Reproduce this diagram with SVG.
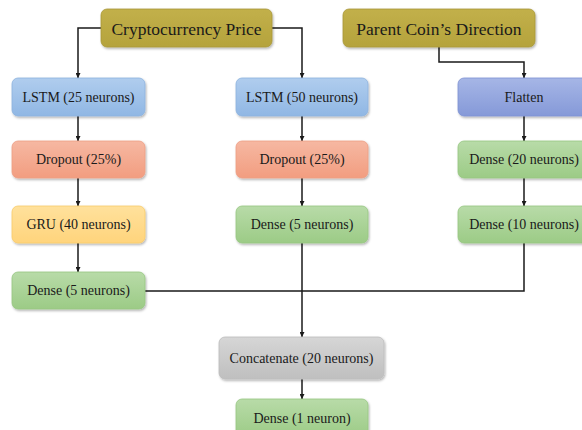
<svg xmlns="http://www.w3.org/2000/svg" width="582" height="430" viewBox="0 0 582 430">
  <defs>
    <linearGradient id="gGold" x1="0" y1="0" x2="0" y2="1">
      <stop offset="0" stop-color="#C2B04A"/>
      <stop offset="1" stop-color="#B5A33C"/>
    </linearGradient>
    <linearGradient id="gBlue" x1="0" y1="0" x2="0" y2="1">
      <stop offset="0" stop-color="#B0CDEE"/>
      <stop offset="1" stop-color="#90B7E4"/>
    </linearGradient>
    <linearGradient id="gSalmon" x1="0" y1="0" x2="0" y2="1">
      <stop offset="0" stop-color="#F6B8A2"/>
      <stop offset="1" stop-color="#F29D80"/>
    </linearGradient>
    <linearGradient id="gYellow" x1="0" y1="0" x2="0" y2="1">
      <stop offset="0" stop-color="#FFE19C"/>
      <stop offset="1" stop-color="#FFD47C"/>
    </linearGradient>
    <linearGradient id="gGreen" x1="0" y1="0" x2="0" y2="1">
      <stop offset="0" stop-color="#B8DBA8"/>
      <stop offset="1" stop-color="#9CCB86"/>
    </linearGradient>
    <linearGradient id="gIndigo" x1="0" y1="0" x2="0" y2="1">
      <stop offset="0" stop-color="#A6B6E6"/>
      <stop offset="1" stop-color="#8599D8"/>
    </linearGradient>
    <linearGradient id="gGray" x1="0" y1="0" x2="0" y2="1">
      <stop offset="0" stop-color="#D6D6D6"/>
      <stop offset="1" stop-color="#BFBFBF"/>
    </linearGradient>
    <filter id="shadow" x="-10%" y="-20%" width="120%" height="150%">
      <feDropShadow dx="1" dy="1.5" stdDeviation="1.2" flood-color="#000" flood-opacity="0.3"/>
    </filter>
    <marker id="arrow" viewBox="0 0 8 8" refX="8" refY="4" markerWidth="5" markerHeight="5" markerUnits="userSpaceOnUse" orient="auto">
      <path d="M0,0 L8,4 L0,8 Z" fill="#1a1a1a"/>
    </marker>
  </defs>
  <style>
    .box { filter: url(#shadow); }
    .lbl { font-family: "Liberation Serif", "Times New Roman", serif; font-size: 14px; fill: #1a1a1a; text-anchor: middle; dominant-baseline: central; }
    .big { font-size: 17.5px; }
    .edge { fill: none; stroke: #1a1a1a; stroke-width: 1.5; }
  </style>

  <rect width="582" height="430" fill="#FFFFFF"/>

  <!-- connectors -->
  <g id="connectors">
    <path class="edge" d="M101,28 H78 V78" marker-end="url(#arrow)"/>
    <path class="edge" d="M272,28 H302 V78" marker-end="url(#arrow)"/>
    <path class="edge" d="M439,47 V62 H524 V78" marker-end="url(#arrow)"/>
    <path class="edge" d="M78,116 V141" marker-end="url(#arrow)"/>
    <path class="edge" d="M78,178 V206" marker-end="url(#arrow)"/>
    <path class="edge" d="M78,243 V272" marker-end="url(#arrow)"/>
    <path class="edge" d="M302,116 V141" marker-end="url(#arrow)"/>
    <path class="edge" d="M302,178 V206" marker-end="url(#arrow)"/>
    <path class="edge" d="M524,116 V141" marker-end="url(#arrow)"/>
    <path class="edge" d="M524,178 V206" marker-end="url(#arrow)"/>
    <path class="edge" d="M145,291 H524 V243"/>
    <path class="edge" d="M302,243 V337" marker-end="url(#arrow)"/>
    <path class="edge" d="M302,379 V399" marker-end="url(#arrow)"/>
  </g>

  <!-- inputs -->
  <g id="crypto-price">
    <rect class="box" x="101" y="9" width="171" height="38" rx="6" fill="url(#gGold)" stroke="#A89838" stroke-width="0.8"/>
    <text class="lbl big" x="186.5" y="29">Cryptocurrency Price</text>
  </g>
  <g id="parent-coin">
    <rect class="box" x="343" y="9" width="192" height="38" rx="6" fill="url(#gGold)" stroke="#A89838" stroke-width="0.8"/>
    <text class="lbl big" x="439" y="29">Parent Coin’s Direction</text>
  </g>

  <!-- left branch -->
  <g id="lstm25">
    <rect class="box" x="12" y="78" width="133" height="38" rx="6" fill="url(#gBlue)" stroke="#8DB2DE" stroke-width="0.8"/>
    <text class="lbl" x="78.5" y="97">LSTM (25 neurons)</text>
  </g>
  <g id="dropout-left">
    <rect class="box" x="12" y="141" width="133" height="37" rx="6" fill="url(#gSalmon)" stroke="#EE9E84" stroke-width="0.8"/>
    <text class="lbl" x="78.5" y="159.5">Dropout (25%)</text>
  </g>
  <g id="gru40">
    <rect class="box" x="12" y="206" width="133" height="37" rx="6" fill="url(#gYellow)" stroke="#F9CB6A" stroke-width="0.8"/>
    <text class="lbl" x="78.5" y="224.5">GRU (40 neurons)</text>
  </g>
  <g id="dense5-left">
    <rect class="box" x="12" y="272" width="133" height="37" rx="6" fill="url(#gGreen)" stroke="#97C682" stroke-width="0.8"/>
    <text class="lbl" x="78.5" y="290.5">Dense (5 neurons)</text>
  </g>

  <!-- middle branch -->
  <g id="lstm50">
    <rect class="box" x="236" y="78" width="132" height="38" rx="6" fill="url(#gBlue)" stroke="#8DB2DE" stroke-width="0.8"/>
    <text class="lbl" x="302" y="97">LSTM (50 neurons)</text>
  </g>
  <g id="dropout-mid">
    <rect class="box" x="236" y="141" width="132" height="37" rx="6" fill="url(#gSalmon)" stroke="#EE9E84" stroke-width="0.8"/>
    <text class="lbl" x="302" y="159.5">Dropout (25%)</text>
  </g>
  <g id="dense5-mid">
    <rect class="box" x="236" y="206" width="132" height="37" rx="6" fill="url(#gGreen)" stroke="#97C682" stroke-width="0.8"/>
    <text class="lbl" x="302" y="224.5">Dense (5 neurons)</text>
  </g>

  <!-- right branch -->
  <g id="flatten">
    <rect class="box" x="458" y="78" width="133" height="38" rx="6" fill="url(#gIndigo)" stroke="#7F93D3" stroke-width="0.8"/>
    <text class="lbl" x="524" y="97">Flatten</text>
  </g>
  <g id="dense20">
    <rect class="box" x="458" y="141" width="133" height="37" rx="6" fill="url(#gGreen)" stroke="#97C682" stroke-width="0.8"/>
    <text class="lbl" x="524" y="159.5">Dense (20 neurons)</text>
  </g>
  <g id="dense10">
    <rect class="box" x="458" y="206" width="133" height="37" rx="6" fill="url(#gGreen)" stroke="#97C682" stroke-width="0.8"/>
    <text class="lbl" x="524" y="224.5">Dense (10 neurons)</text>
  </g>

  <!-- merge -->
  <g id="concatenate">
    <rect class="box" x="219" y="337" width="165" height="42" rx="6" fill="url(#gGray)" stroke="#BDBDBD" stroke-width="0.8"/>
    <text class="lbl" x="301.5" y="358">Concatenate (20 neurons)</text>
  </g>
  <g id="dense1">
    <rect class="box" x="236" y="399" width="132" height="38" rx="6" fill="url(#gGreen)" stroke="#97C682" stroke-width="0.8"/>
    <text class="lbl" x="302" y="418">Dense (1 neuron)</text>
  </g>
</svg>
